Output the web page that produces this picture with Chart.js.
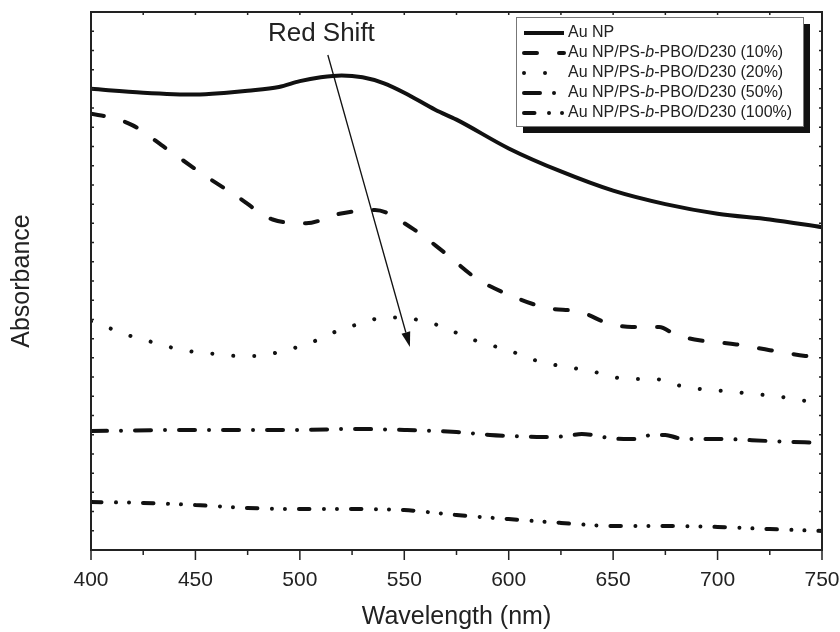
<!DOCTYPE html>
<html>
<head>
<meta charset="utf-8">
<script src="https://cdn.jsdelivr.net/npm/chart.js@4"></script>
<style>
  html, body { margin: 0; padding: 0; background: #fff; }
</style>
</head>
<body>
<canvas id="absChart" width="840" height="632"></canvas>
<script>
const FONT = "'Liberation Sans', Arial, Helvetica, sans-serif";

// wavelengths (nm) and absorbance values
const auNpNm = [400, 425, 450, 465, 475, 490, 500, 510, 520, 530, 540, 550, 565, 575, 600, 625, 650, 675, 700, 725, 750];
const auNpAbs = [2.40, 2.38, 2.37, 2.38, 2.39, 2.41, 2.44, 2.46, 2.47, 2.46, 2.43, 2.38, 2.29, 2.24, 2.09, 1.97, 1.87, 1.80, 1.75, 1.72, 1.68];

const tenNm = [400, 410, 420, 436, 453, 470, 487, 503, 519, 536, 553, 569, 585, 602, 618, 634, 639, 645, 659, 672, 680, 692, 709, 725, 742, 750];
const tenAbs = [2.27, 2.25, 2.21, 2.09, 1.96, 1.84, 1.72, 1.70, 1.75, 1.77, 1.68, 1.55, 1.41, 1.32, 1.26, 1.24, 1.22, 1.19, 1.16, 1.16, 1.12, 1.09, 1.07, 1.04, 1.01, 1.00];

const twentyNm = [400, 410, 420, 430, 440, 450, 460, 470, 480, 490, 500, 510, 520, 530, 540, 550, 559, 569, 579, 590, 600, 609, 619, 629, 640, 650, 660, 670, 680, 690, 700, 710, 719, 729, 739, 750];
const twentyAbs = [1.19, 1.15, 1.11, 1.08, 1.05, 1.03, 1.02, 1.01, 1.01, 1.03, 1.06, 1.10, 1.15, 1.18, 1.21, 1.21, 1.19, 1.16, 1.11, 1.07, 1.04, 1.00, 0.97, 0.95, 0.93, 0.90, 0.89, 0.89, 0.86, 0.84, 0.83, 0.82, 0.81, 0.80, 0.78, 0.77];

const fiftyNm = [400, 450, 500, 525, 550, 575, 591, 602, 616, 628, 635, 640, 648, 655, 660, 669, 675, 681, 690, 700, 725, 750];
const fiftyAbs = [0.619, 0.625, 0.625, 0.630, 0.625, 0.614, 0.599, 0.593, 0.588, 0.593, 0.604, 0.599, 0.583, 0.578, 0.578, 0.599, 0.599, 0.583, 0.578, 0.578, 0.567, 0.557];

const hundredNm = [400, 425, 450, 475, 500, 525, 550, 565, 575, 600, 625, 650, 675, 700, 725, 750];
const hundredAbs = [0.250, 0.245, 0.234, 0.219, 0.213, 0.213, 0.208, 0.193, 0.182, 0.161, 0.141, 0.125, 0.125, 0.120, 0.109, 0.099];

const seriesLabels = [
  'Au NP',
  'Au NP/PS-b-PBO/D230 (10%)',
  'Au NP/PS-b-PBO/D230 (20%)',
  'Au NP/PS-b-PBO/D230 (50%)',
  'Au NP/PS-b-PBO/D230 (100%)'
];

const xTickValues = [400, 450, 500, 550, 600, 650, 700, 750];

// annotation: "Red Shift" arrow, in data units
const arrowFrom = { x: 513.4, y: 2.576 };
const arrowTo = { x: 552.7, y: 1.057 };
const redShiftAt = { x: 510.3, y: 2.651 };

const toPoints = (xs, ys) => xs.map((x, i) => ({ x, y: ys[i] }));

function lineSet(label, xs, ys, dash) {
  return {
    label,
    data: toPoints(xs, ys),
    borderColor: '#111',
    borderWidth: 4,
    borderDash: dash,
    borderCapStyle: dash.length ? 'round' : 'butt',
    pointRadius: 0,
    fill: false,
    cubicInterpolationMode: 'monotone'
  };
}

// frame, tick marks and the arrow
const frame = {
  id: 'frame',
  afterDatasetsDraw(chart) {
    const { ctx, chartArea: a, scales: { x, y } } = chart;
    ctx.save();
    ctx.strokeStyle = '#222';
    ctx.lineWidth = 1.5;
    ctx.beginPath();
    for (let v = 400; v <= 750; v += 25) {
      const px = x.getPixelForValue(v);
      const major = v % 50 === 0;
      ctx.moveTo(px, a.bottom);
      ctx.lineTo(px, a.bottom + (major ? 10 : 5));
      ctx.moveTo(px, a.top);
      ctx.lineTo(px, a.top + 3);
    }
    for (let k = 1; k < 28; k++) {
      const py = y.getPixelForValue(k / 10);
      ctx.moveTo(a.left, py);
      ctx.lineTo(a.left + 3, py);
      ctx.moveTo(a.right, py);
      ctx.lineTo(a.right - 3, py);
    }
    ctx.stroke();
    ctx.lineWidth = 2;
    ctx.strokeRect(a.left, a.top, a.right - a.left, a.bottom - a.top);

    // arrow
    const x1 = x.getPixelForValue(arrowFrom.x), y1 = y.getPixelForValue(arrowFrom.y);
    const x2 = x.getPixelForValue(arrowTo.x), y2 = y.getPixelForValue(arrowTo.y);
    const ang = Math.atan2(y2 - y1, x2 - x1);
    const headLen = 15, headW = 4.5;
    ctx.lineWidth = 1.3;
    ctx.strokeStyle = '#111';
    ctx.beginPath();
    ctx.moveTo(x1, y1);
    ctx.lineTo(x2 - Math.cos(ang) * headLen, y2 - Math.sin(ang) * headLen);
    ctx.stroke();
    ctx.fillStyle = '#111';
    ctx.beginPath();
    ctx.moveTo(x2, y2);
    ctx.lineTo(x2 - Math.cos(ang) * headLen - Math.sin(ang) * headW, y2 - Math.sin(ang) * headLen + Math.cos(ang) * headW);
    ctx.lineTo(x2 - Math.cos(ang) * headLen + Math.sin(ang) * headW, y2 - Math.sin(ang) * headLen - Math.cos(ang) * headW);
    ctx.closePath();
    ctx.fill();

    ctx.font = '26px ' + FONT;
    ctx.fillStyle = '#222';
    ctx.textAlign = 'center';
    ctx.textBaseline = 'alphabetic';
    ctx.fillText('Red Shift', x.getPixelForValue(redShiftAt.x), y.getPixelForValue(redShiftAt.y));
    ctx.restore();
  }
};

// boxed legend with drop shadow, inside the plot
const legendBox = {
  id: 'legendBox',
  afterDraw(chart) {
    const { ctx, chartArea: a } = chart;
    const w = 287, h = 109;
    const x0 = a.right - 19 - w, y0 = a.top + 5;
    ctx.save();
    ctx.fillStyle = '#111';
    ctx.fillRect(x0 + 7, y0 + 7, w, h);
    ctx.fillStyle = '#fff';
    ctx.fillRect(x0, y0, w, h);
    ctx.strokeStyle = '#777';
    ctx.lineWidth = 1;
    ctx.strokeRect(x0 + 0.5, y0 + 0.5, w, h);

    chart.data.datasets.forEach((ds, i) => {
      const cy = y0 + 16 + i * 20;
      ctx.strokeStyle = '#111';
      ctx.lineWidth = ds.borderWidth;
      ctx.lineCap = ds.borderCapStyle;
      ctx.setLineDash(ds.borderDash);
      ctx.beginPath();
      ctx.moveTo(x0 + 8, cy);
      ctx.lineTo(x0 + 48, cy);
      ctx.stroke();
      ctx.setLineDash([]);

      ctx.fillStyle = '#222';
      ctx.textBaseline = 'middle';
      ctx.textAlign = 'left';
      let tx = x0 + 52;
      const parts = ds.label.split('-b-');
      const segs = parts.length > 1
        ? [[parts[0] + '-', false], ['b', true], ['-' + parts[1], false]]
        : [[ds.label, false]];
      segs.forEach(([s, it]) => {
        ctx.font = (it ? 'italic ' : '') + '16px ' + FONT;
        ctx.fillText(s, tx, cy);
        tx += ctx.measureText(s).width;
      });
    });
    ctx.restore();
  }
};

const ctx = document.getElementById('absChart').getContext('2d');

const absChart = new Chart(ctx, {
  type: 'line',
  data: {
    datasets: [
      lineSet(seriesLabels[0], auNpNm, auNpAbs, []),
      lineSet(seriesLabels[1], tenNm, tenAbs, [13, 22]),
      lineSet(seriesLabels[2], twentyNm, twentyAbs, [0.01, 21]),
      lineSet(seriesLabels[3], fiftyNm, fiftyAbs, [16, 14, 0.01, 14]),
      lineSet(seriesLabels[4], hundredNm, hundredAbs, [10.5, 14.5, 0.01, 13, 0.01, 14])
    ]
  },
  options: {
    responsive: false,
    animation: false,
    layout: { padding: { top: 12, right: 18, left: 0, bottom: 0 } },
    scales: {
      x: {
        type: 'linear',
        min: 400,
        max: 750,
        afterBuildTicks: s => { s.ticks = xTickValues.map(v => ({ value: v })); },
        afterFit: s => { s.height = 82; s.paddingLeft = 0; s.paddingRight = 0; },
        grid: { display: false },
        border: { display: false },
        ticks: {
          autoSkip: false,
          maxRotation: 0,
          padding: 10,
          color: '#222',
          font: { family: FONT, size: 21 }
        },
        title: {
          display: true,
          text: 'Wavelength (nm)',
          color: '#222',
          font: { family: FONT, size: 25 },
          padding: { top: 0, bottom: 0 }
        }
      },
      y: {
        min: 0,
        max: 2.8,
        afterFit: s => { s.width = 91; s.paddingTop = 0; s.paddingBottom = 0; },
        grid: { display: false },
        border: { display: false },
        ticks: { display: false },
        title: {
          display: true,
          text: 'Absorbance',
          color: '#222',
          font: { family: FONT, size: 25 },
          padding: { top: 7, bottom: 0 }
        }
      }
    },
    plugins: {
      legend: { display: false },
      tooltip: { enabled: false }
    }
  },
  plugins: [frame, legendBox]
});
</script>
</body>
</html>
